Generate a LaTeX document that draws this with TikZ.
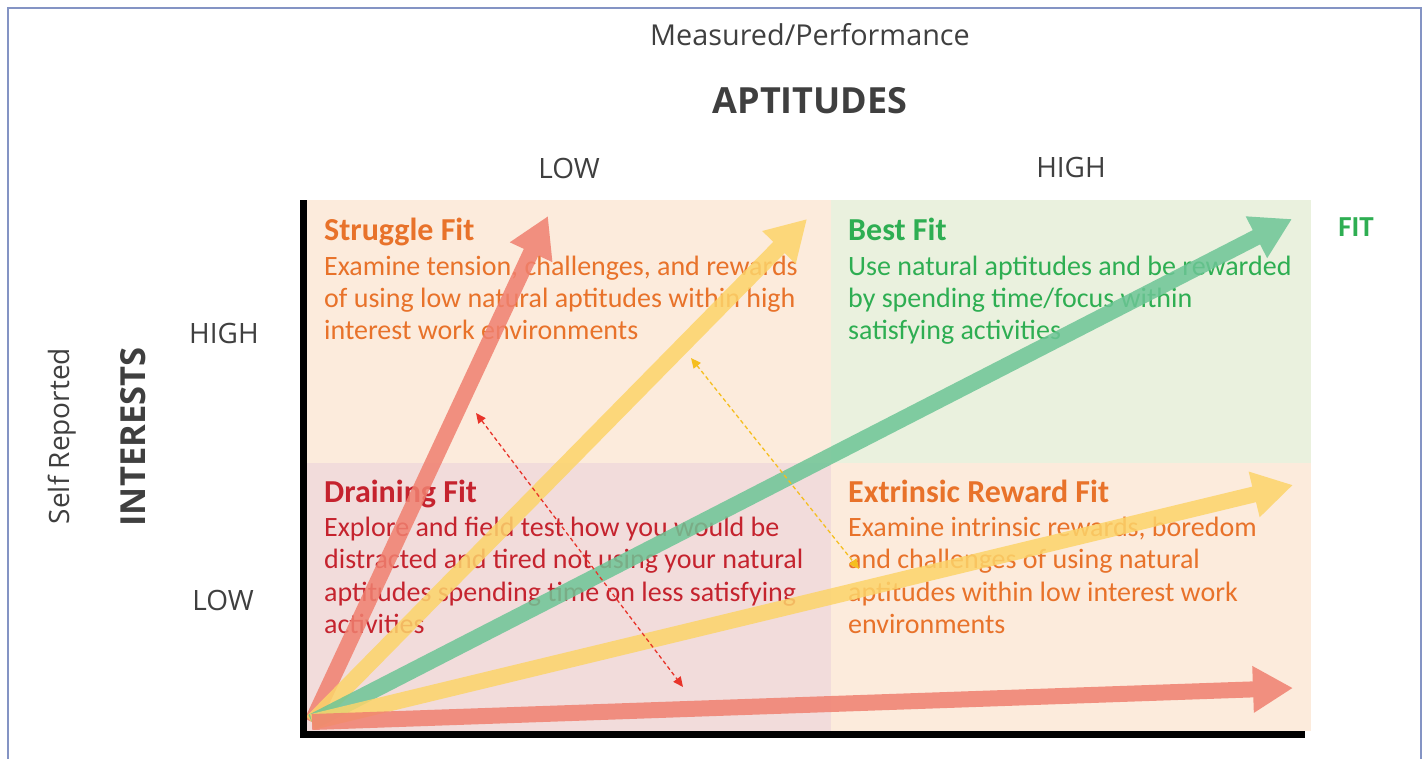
\documentclass[tikz,border=0pt]{standalone}
\usepackage{fontspec}
\setmainfont{Carlito}
\newfontfamily\axisfont{Open Sans}
\usetikzlibrary{arrows.meta}

\definecolor{frameblue}{HTML}{8494C4}
\definecolor{peach}{HTML}{FCEBDC}
\definecolor{mint}{HTML}{EAF1DE}
\definecolor{rose}{HTML}{F2DCDB}
\definecolor{arrred}{HTML}{F0806F}
\definecolor{arryellow}{HTML}{FCD46A}
\definecolor{arrgreen}{HTML}{6DC596}
\definecolor{txtorange}{HTML}{E8722A}
\definecolor{txtgreen}{HTML}{2EAE52}
\definecolor{txtred}{HTML}{C5232E}
\definecolor{labelgray}{HTML}{3F3F3F}
\definecolor{dashred}{HTML}{E8342A}
\definecolor{dashyellow}{HTML}{F5BE1E}

\tikzset{
  axislabel/.style={inner sep=0, text=labelgray, font=\axisfont\fontsize{28}{32}\selectfont},
  axistitle/.style={inner sep=0, text=labelgray, font=\axisfont\bfseries\fontsize{36}{42}\selectfont},
  qtitle/.style={anchor=base west, inner sep=0, font=\bfseries\fontsize{32}{36}\selectfont},
  qline/.style={anchor=base west, inner sep=0, font=\fontsize{28}{32}\selectfont},
  fatarrow/.style={line width=16pt, -{Triangle[length=40pt,width=44pt]}},
  dasharrow/.style={line width=1.3pt, dash pattern=on 4pt off 3pt,
    {Triangle[length=10pt,width=9pt]}-{Triangle[length=10pt,width=9pt]}},
}

\begin{document}
\begin{tikzpicture}[x=1pt,y=-1pt]
\useasboundingbox (0,0) rectangle (1423,759);

% outer frame
\draw[frameblue, line width=2pt] (8,780) -- (8,8) -- (1421,8) -- (1421,780);

% quadrant backgrounds
\fill[peach] (307,200) rectangle (831,463);
\fill[mint]  (831,200) rectangle (1311,463);
\fill[rose]  (307,463) rectangle (831,731);
\fill[peach] (831,463) rectangle (1311,731);

% axis captions
\node[axislabel, font=\axisfont\fontsize{28.8}{32}\selectfont] (measured) at (810,35) {Measured/Performance};
\node[axistitle] (aptitudes) at (810,101) {APTITUDES};
\node[axislabel] (aptlow) at (569,168) {LOW};
\node[axislabel] (apthigh) at (1071,168) {HIGH};
\node[axislabel] (inthigh) at (224,333) {HIGH};
\node[axislabel] (intlow) at (223,600) {LOW};
\node[axislabel, rotate=90] (selfrep) at (62,436) {Self Reported};
\node[axistitle, rotate=90, font=\axisfont\bfseries\fontsize{34.5}{40}\selectfont] (interests) at (133,437) {INTERESTS};
\node[inner sep=0, text=txtgreen, font=\bfseries\fontsize{29}{34}\selectfont] (fit) at (1356,227) {FIT};

% quadrant texts
\begin{scope}[txtorange]
\node[qtitle] (sgt) at (324,241) {Struggle Fit};
\node[qline] (sg1) at (324,275) {Examine tension, challenges, and rewards};
\node[qline] (sg2) at (324,307) {of using low natural aptitudes within high};
\node[qline] (sg3) at (324,339) {interest work environments};
\end{scope}
\begin{scope}[txtgreen]
\node[qtitle] (bft) at (848,241) {Best Fit};
\node[qline] (bf1) at (848,275) {Use natural aptitudes and be rewarded};
\node[qline] (bf2) at (848,307) {by spending time/focus within};
\node[qline] (bf3) at (848,339) {satisfying activities};
\end{scope}
\begin{scope}[txtred]
\node[qtitle] (drt) at (324,502) {Draining Fit};
\node[qline] (dr1) at (324,536) {Explore and field test how you would be};
\node[qline] (dr2) at (324,568) {distracted and tired not using your natural};
\node[qline] (dr3) at (324,601) {aptitudes spending time on less satisfying};
\node[qline] (dr4) at (324,633) {activities};
\end{scope}
\begin{scope}[txtorange]
\node[qtitle] (ext) at (848,502) {Extrinsic Reward Fit};
\node[qline] (ex1) at (848,536) {Examine intrinsic rewards, boredom};
\node[qline] (ex2) at (848,568) {and challenges of using natural};
\node[qline] (ex3) at (848,601) {aptitudes within low interest work};
\node[qline] (ex4) at (848,633) {environments};
\end{scope}

% fit arrows from the origin
\coordinate (o) at (312,722);
\coordinate (tsteep) at (548,216);
\coordinate (tupper) at (807,219);
\coordinate (tbest)  at (1292,219);
\coordinate (tlower) at (1293,485);
\coordinate (tflat)  at (1293,688);
\begin{scope}[transparency group, opacity=0.85]
  \draw[fatarrow, arrred] (o) -- (tsteep);
\end{scope}
\begin{scope}[transparency group, opacity=0.85]
  \draw[fatarrow, arryellow] (o) -- (tupper);
\end{scope}
\begin{scope}[transparency group, opacity=0.85]
  \draw[fatarrow, arrgreen] (o) -- (tbest);
\end{scope}
\begin{scope}[transparency group, opacity=0.85]
  \draw[fatarrow, arryellow] (o) -- (tlower);
\end{scope}
\begin{scope}[transparency group, opacity=0.85]
  \draw[fatarrow, arrred] (o) -- (tflat);
\end{scope}

% dashed double-headed arrows
\coordinate (rdA) at (476,413);
\coordinate (rdB) at (683,687);
\coordinate (ydA) at (691,358);
\coordinate (ydB) at (859,569);
\draw[dasharrow, dashred] (rdA) -- (rdB);
\draw[dasharrow, dashyellow] (ydA) -- (ydB);

% axes
\fill[black] (300,200) rectangle (307,738);
\fill[black] (300,731) rectangle (1305,738);
\end{tikzpicture}
\end{document}
